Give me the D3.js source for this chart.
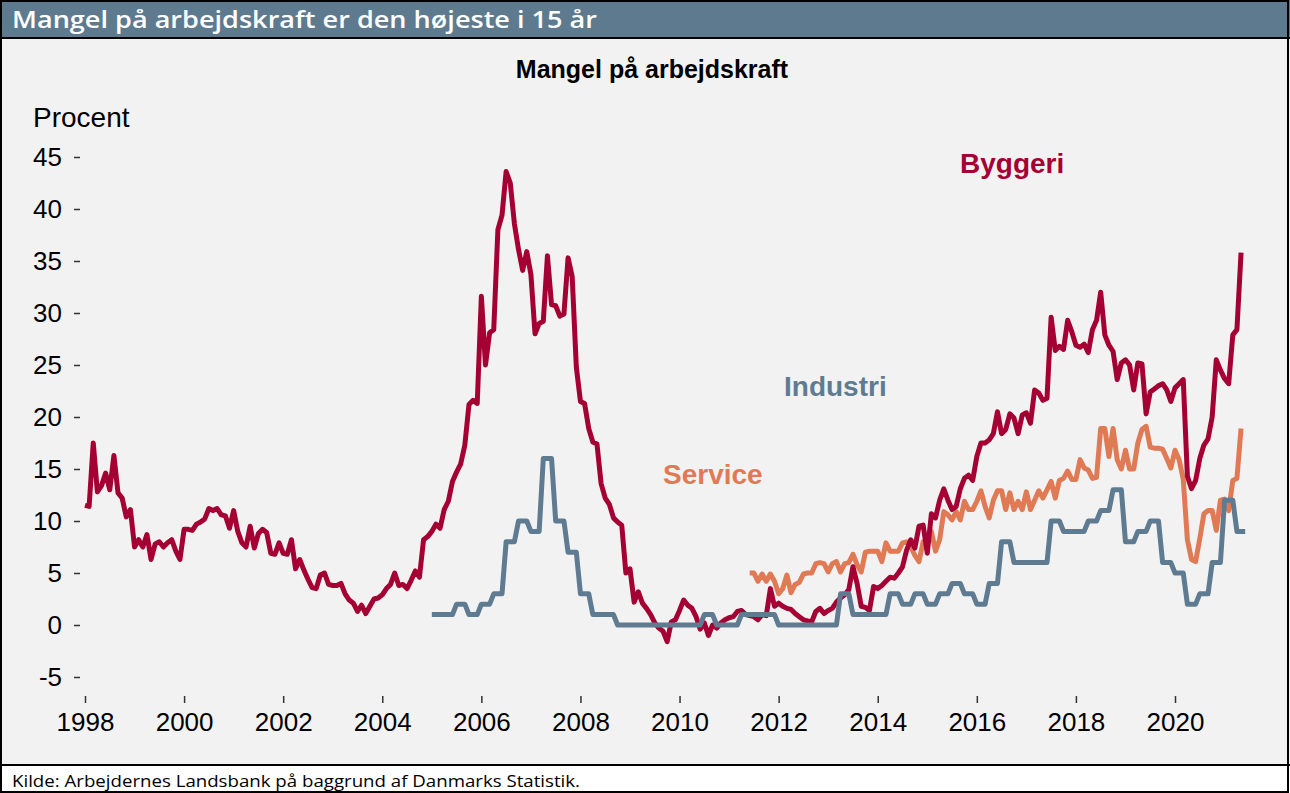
<!DOCTYPE html>
<html>
<head>
<meta charset="utf-8">
<script src="https://cdn.jsdelivr.net/npm/d3@7"></script>
<style>
  body { margin: 0; background: #fff; }
  svg text { font-family: "Liberation Sans", Arial, sans-serif; }
</style>
</head>
<body>
<div id="chart"></div>
<script>
// Byggeri, monthly from Jan 1998
const byggeriStart = 1998;
const byggeri = [
  11.5, 11.4, 17.5, 12.8, 13.4, 14.6, 13.0, 16.3, 12.7, 12.2, 10.4, 11.1,
  7.5, 8.2, 7.5, 8.7, 6.3, 7.8, 8.0, 7.5, 7.9, 8.2, 7.1, 6.3,
  9.2, 9.2, 9.1, 9.7, 9.9, 10.2, 11.2, 11.0, 11.2, 10.6, 10.5, 9.3,
  11.0, 9.0, 7.9, 7.5, 9.5, 7.4, 8.8, 9.2, 8.9, 6.9, 6.8, 7.9,
  6.9, 6.8, 8.2, 5.4, 6.3, 5.3, 4.4, 3.6, 3.5, 4.8, 5.0, 3.9,
  3.8, 3.8, 4.0, 3.0, 2.4, 2.1, 1.3, 1.9, 1.1, 1.8, 2.5, 2.6,
  2.9, 3.5, 3.9, 5.0, 3.8, 3.9, 3.5, 4.3, 5.2, 4.6, 8.2, 8.5,
  9.0, 9.7, 9.3, 11.1, 11.9, 13.8, 14.7, 15.5, 17.3, 21.2, 21.6, 21.3,
  31.6, 25.0, 28.1, 28.4, 38.0, 39.4, 43.6, 42.5, 38.6, 36.1, 34.1, 35.9,
  33.7, 28.0, 29.0, 29.2, 35.5, 30.8, 30.7, 29.7, 29.9, 35.3, 33.5, 24.8,
  21.5, 21.3, 18.9, 17.6, 17.4, 13.6, 12.2, 11.6, 10.3, 9.9, 9.6, 5.0,
  5.4, 2.2, 3.2, 2.1, 1.6, 1.0, 0.2, -0.3, -0.6, -1.6, 0.3, 0.5,
  1.4, 2.4, 1.9, 1.6, 0.8, -0.4, 0.2, -1.0, 0.0, -0.3, 0.2, 0.5,
  0.7, 0.8, 1.3, 1.4, 1.0, 0.9, 0.8, 0.5, 1.0, 0.9, 3.5, 1.8,
  2.1, 1.8, 1.6, 1.5, 1.1, 0.8, 0.5, 0.4, 0.3, 1.3, 1.6, 1.1,
  1.4, 1.6, 2.2, 2.6, 2.9, 3.4, 5.6, 4.0, 1.8, 1.7, 1.4, 3.7,
  3.5, 3.8, 4.2, 4.6, 4.5, 5.0, 5.6, 7.2, 8.2, 7.4, 9.5, 9.6,
  6.9, 10.7, 10.3, 12.0, 13.1, 12.0, 11.1, 11.4, 13.1, 14.1, 14.4, 13.9,
  16.2, 17.5, 17.5, 17.8, 18.4, 20.5, 18.4, 18.8, 20.3, 19.9, 18.4, 20.2,
  20.4, 19.4, 22.6, 22.3, 21.6, 21.8, 29.6, 26.4, 26.8, 26.5, 29.3, 28.2,
  26.9, 26.7, 27.0, 26.2, 28.4, 29.3, 32.0, 27.9, 26.9, 26.3, 23.6, 25.2,
  25.5, 25.0, 22.6, 25.2, 25.1, 20.3, 22.4, 22.7, 23.0, 23.2, 22.6, 21.5,
  22.8, 23.2, 23.6, 14.3, 13.1, 13.9, 16.0, 17.3, 17.9, 20.0, 25.5, 24.5,
  23.7, 23.2, 27.9, 28.4, 35.8
];

// Service, monthly from Jun 2011
const serviceStart = 2011 + 5 / 12;
const service = [
  5.0, 5.0, 4.2, 4.9, 4.2, 4.9, 4.2,
  3.0, 3.5, 4.8, 3.1, 3.9, 4.1, 4.9, 5.0, 5.0, 5.9, 6.0, 5.9,
  5.1, 5.9, 6.1, 5.1, 5.9, 6.0, 6.8, 5.8, 5.1, 7.0, 7.1, 7.1,
  7.1, 6.1, 7.9, 7.1, 7.1, 7.1, 7.9, 8.0, 7.5, 6.7, 6.1, 8.0,
  8.2, 9.0, 7.1, 8.2, 10.9, 10.6, 10.1, 10.9, 10.1, 11.9, 11.1, 11.1,
  11.9, 12.9, 11.4, 10.3, 12.0, 12.9, 12.9, 11.1, 12.7, 11.1, 11.9, 11.1,
  12.8, 11.1, 12.0, 12.9, 12.2, 13.0, 13.8, 12.2, 13.9, 14.1, 14.8, 14.0,
  14.0, 15.9, 15.1, 14.9, 14.1, 14.2, 18.9, 18.9, 16.2, 18.9, 15.9, 15.0,
  16.8, 15.0, 15.0, 17.5, 18.8, 19.1, 17.1, 17.0, 17.0, 16.9, 16.0, 15.1,
  16.8, 15.9, 14.0, 8.2, 6.3, 6.1, 8.3, 10.7, 11.0, 11.0, 9.1, 12.0,
  12.1, 11.0, 13.9, 14.1, 18.9
];

// Industri, quarterly from 2005 Q1
const industriStart = 2005;
const industri = [
  1, 1, 2, 1,
  2, 3, 8, 10,
  9, 16, 10, 7,
  3, 1, 1, 0,
  0, 0, 0, 0,
  0, 0, 1, 0,
  0, 1, 1, 1,
  0, 0, 0, 0,
  0, 3, 1, 1,
  1, 3, 2, 3,
  2, 3, 4, 3,
  2, 4, 8, 6,
  6, 6, 10, 9,
  9, 10, 11, 13,
  8, 9, 10, 6,
  5, 2, 3, 6,
  12, 9
];

const yTicks = [-5, 0, 5, 10, 15, 20, 25, 30, 35, 40, 45];
const xTicks = [1998, 2000, 2002, 2004, 2006, 2008, 2010, 2012, 2014, 2016, 2018, 2020];

const colors = { byggeri: "#a50034", service: "#e07a55", industri: "#5f7b91" };

const W = 1290, H = 793;
const svg = d3.select("#chart").append("svg")
  .attr("width", W)
  .attr("height", H);

// frame
svg.append("rect").attr("x", 0).attr("y", 0).attr("width", W).attr("height", H).style("fill", "#fff");
svg.append("rect").attr("x", 0).attr("y", 0).attr("width", W).attr("height", 38).style("fill", "#5e7a8f");
svg.append("rect").attr("x", 0).attr("y", 38).attr("width", W).attr("height", 727).style("fill", "#f2f2f2");
svg.append("line").attr("x1", 0).attr("x2", W).attr("y1", 38).attr("y2", 38)
  .style("stroke", "#000").style("stroke-width", 2);
svg.append("line").attr("x1", 0).attr("x2", W).attr("y1", 765).attr("y2", 765)
  .style("stroke", "#000").style("stroke-width", 2);
svg.append("rect").attr("x", 1).attr("y", 1).attr("width", W - 3).attr("height", H - 2)
  .style("fill", "none").style("stroke", "#000").style("stroke-width", 2);

svg.append("text")
  .attr("x", 12).attr("y", 28)
  .style("font-family", "'Open Sans', 'Noto Sans', sans-serif")
  .style("font-weight", "600")
  .style("font-size", "24px")
  .style("fill", "#fff")
  .attr("textLength", 585)
  .attr("lengthAdjust", "spacingAndGlyphs")
  .text("Mangel på arbejdskraft er den højeste i 15 år");

svg.append("text")
  .attr("x", 12).attr("y", 787)
  .style("font-family", "'Open Sans', 'Noto Sans', sans-serif")
  .style("font-size", "17px")
  .style("fill", "#000")
  .attr("textLength", 568)
  .attr("lengthAdjust", "spacingAndGlyphs")
  .text("Kilde: Arbejdernes Landsbank på baggrund af Danmarks Statistik.");

svg.append("text")
  .attr("x", 652).attr("y", 78)
  .style("text-anchor", "middle")
  .style("font-weight", "bold")
  .style("font-size", "25px")
  .text("Mangel på arbejdskraft");

svg.append("text")
  .attr("x", 33).attr("y", 127)
  .style("font-size", "28px")
  .text("Procent");

const x = d3.scaleLinear().domain([1998, 2020]).range([85, 1175]);
const y = d3.scaleLinear().domain([-5, 45]).range([677, 157]);

const yAxis = svg.append("g")
  .attr("transform", "translate(80,0)")
  .call(d3.axisLeft(y).tickValues(yTicks).tickSize(6).tickPadding(12).tickFormat(d => String(d)));
yAxis.select(".domain").remove();
yAxis.selectAll("line").style("stroke", "#333").style("stroke-width", 1.5);
yAxis.selectAll("text").style("font-size", "26px").style("fill", "#000")
  .style("font-family", "'Liberation Sans', Arial, sans-serif");

const xAxis = svg.append("g")
  .attr("transform", "translate(0,696)")
  .call(d3.axisBottom(x).tickValues(xTicks).tickSize(7).tickPadding(10).tickFormat(d => String(d)));
xAxis.select(".domain").remove();
xAxis.selectAll("line").style("stroke", "#333").style("stroke-width", 1.5);
xAxis.selectAll("text").style("font-size", "26px").style("fill", "#000")
  .style("font-family", "'Liberation Sans', Arial, sans-serif");

const line = d3.line()
  .x(d => x(d.t))
  .y(d => y(d.v));

const byggeriData = byggeri.map((v, i) => ({ t: byggeriStart + i / 12, v: v }));
const serviceData = service.map((v, i) => ({ t: serviceStart + i / 12, v: v }));
// each quarter held flat over its three months
const industriData = industri.flatMap((v, q) => [
  { t: industriStart + (3 * q) / 12, v: v },
  { t: industriStart + (3 * q + 2) / 12, v: v }
]);

svg.append("path")
  .data([serviceData])
  .attr("d", line)
  .style("fill", "none")
  .style("stroke", colors.service)
  .style("stroke-width", 5)
  .style("stroke-linejoin", "round");

svg.append("path")
  .data([byggeriData])
  .attr("d", line)
  .style("fill", "none")
  .style("stroke", colors.byggeri)
  .style("stroke-width", 5)
  .style("stroke-linejoin", "round");

svg.append("path")
  .data([industriData])
  .attr("d", line)
  .style("fill", "none")
  .style("stroke", colors.industri)
  .style("stroke-width", 5)
  .style("stroke-linejoin", "round");

const labels = [
  { text: "Byggeri", x: 960, y: 173, color: colors.byggeri },
  { text: "Industri", x: 784, y: 396, color: colors.industri },
  { text: "Service", x: 663, y: 484, color: colors.service }
];

svg.selectAll(".series-label")
  .data(labels)
  .enter().append("text")
  .attr("class", "series-label")
  .attr("x", d => d.x)
  .attr("y", d => d.y)
  .style("font-weight", "bold")
  .style("font-size", "28px")
  .style("fill", d => d.color)
  .text(d => d.text);
</script>
</body>
</html>
